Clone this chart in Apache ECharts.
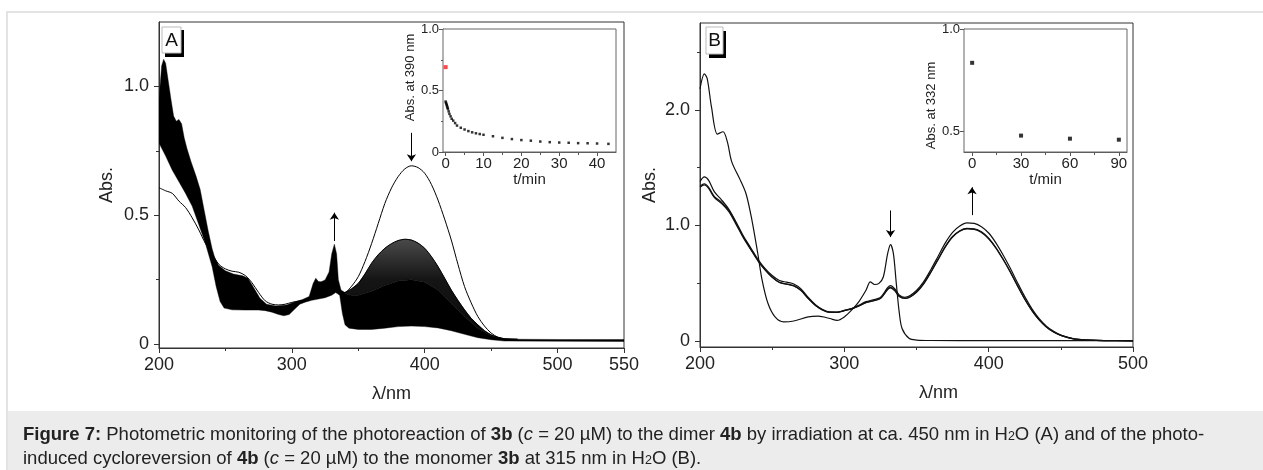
<!DOCTYPE html>
<html>
<head>
<meta charset="utf-8">
<script src="https://cdn.jsdelivr.net/npm/echarts@6/dist/echarts.min.js"></script>
<style>
  html, body { margin: 0; padding: 0; background: #fff; }
  #chart { width: 1263px; height: 470px; }
</style>
</head>
<body>
<div id="chart"></div>
<script>
// ---- panel A: irradiation of 3b (wavelength nm, Abs.) ----
// thin line: t = 0 spectrum of the monomer
var monoA = [[200,0.607],[205,0.595],[210,0.585],[215,0.555],[220,0.53],[225,0.49],[230,0.443],[235,0.39],[240,0.35],[245,0.31],[250,0.292],[255,0.283],[260,0.279],[265,0.266],[270,0.238],[275,0.2],[280,0.168],[285,0.155],[290,0.152],[295,0.155],[300,0.162],[305,0.167],[310,0.17],[315,0.175],[320,0.18],[325,0.186],[328,0.195],[331,0.21],[333,0.208],[336,0.198],[340,0.2],[345,0.225],[350,0.262],[355,0.32],[360,0.39],[365,0.468],[370,0.546],[375,0.606],[380,0.65],[385,0.68],[390,0.692],[395,0.685],[400,0.663],[405,0.62],[410,0.559],[415,0.485],[420,0.404],[425,0.31],[430,0.223],[435,0.16],[440,0.107],[445,0.07],[450,0.043],[455,0.027],[460,0.019],[470,0.014],[500,0.014],[550,0.014]];
// outline of the bundle of spectra recorded during irradiation
var bandTopA = [[200,0.95],[202,1.08],[203.5,1.105],[205,1.09],[207,1.02],[209,0.95],[211,0.885],[213,0.865],[215,0.872],[217,0.855],[219,0.8],[221,0.76],[224,0.71],[228,0.65],[231,0.6],[234,0.52],[237,0.44],[240,0.37],[242,0.335],[245,0.305],[250,0.285],[256,0.272],[263,0.265],[267,0.256],[271,0.222],[276,0.178],[281,0.155],[288,0.148],[296,0.152],[303,0.165],[308,0.173],[313,0.185],[316,0.235],[318,0.256],[320,0.243],[322,0.242],[325,0.249],[328,0.28],[330,0.35],[332,0.388],[333.7,0.35],[335,0.25],[337,0.21],[340,0.2]];
var humpTopA = [[340,0.2],[345,0.215],[350,0.236],[355,0.272],[360,0.314],[365,0.347],[370,0.372],[375,0.39],[380,0.402],[385,0.407],[390,0.404],[395,0.392],[400,0.372],[405,0.34],[410,0.301],[415,0.256],[420,0.21],[425,0.17],[430,0.133],[435,0.1],[440,0.075],[445,0.052],[450,0.036],[455,0.026],[460,0.021],[470,0.019]];
var humpDenseA = [[340,0.196],[345,0.19],[350,0.19],[360,0.205],[370,0.228],[380,0.245],[390,0.25],[400,0.24],[410,0.21],[420,0.16],[430,0.107],[440,0.062],[450,0.033],[460,0.021],[470,0.019]];
var bandTailA = [[500,0.018],[550,0.018]];
var bandLowA = [[200,0.78],[205,0.73],[210,0.675],[215,0.63],[220,0.585],[225,0.535],[230,0.463],[235,0.39],[240,0.3],[243,0.224],[246,0.165],[249,0.14],[255,0.133],[265,0.132],[275,0.132],[280,0.13],[285,0.124],[290,0.115],[294,0.11],[298,0.115],[302,0.135],[306,0.155],[310,0.163],[315,0.17],[320,0.175],[325,0.18],[330,0.19],[333,0.2],[336,0.19],[338,0.12],[340,0.075],[343,0.062],[350,0.057],[360,0.057],[370,0.062],[380,0.068],[390,0.07],[400,0.068],[410,0.063],[420,0.052],[430,0.038],[440,0.025],[450,0.017],[460,0.012],[550,0.01]];

// inset A: Abs. at 390 nm vs t/min
var tA = [0,0.1,0.2,0.3,0.4,0.5,0.6,0.8,1.0,1.3,1.6,2,2.5,3,4,5,6,7,8,9,10,12.5,15,17.5,20,22.5,25,27.5,30,32.5,35,37.5,40,43];
var absA = [0.41,0.40,0.39,0.38,0.37,0.36,0.35,0.33,0.31,0.29,0.27,0.255,0.235,0.215,0.197,0.183,0.17,0.16,0.152,0.146,0.14,0.128,0.115,0.105,0.097,0.092,0.085,0.08,0.077,0.075,0.072,0.071,0.069,0.066];
var startA = [[0, 0.69]];

// ---- panel B: cycloreversion of 4b ----
var wlB0 = [200,203,205,208,212,216,219,222,228,232,236,240,243,247,252,258,265,275,282,290,295,300,305,310,315,318,321,324,327,330,332,334,336,338,340,345,350,360,400,450,500];
var absB0 = [2.18,2.31,2.27,2.02,1.79,1.81,1.72,1.55,1.39,1.27,1.045,0.76,0.53,0.33,0.21,0.167,0.175,0.21,0.216,0.196,0.18,0.21,0.268,0.34,0.44,0.512,0.49,0.5,0.555,0.757,0.835,0.757,0.5,0.253,0.11,0.023,0.01,0.006,0.005,0.005,0.005];
var wlB = [200,203,206,210,215,220,225,230,235,240,245,250,255,260,265,270,275,280,285,290,295,300,305,310,315,320,325,330,332,335,338,342,345,350,355,360,365,370,375,380,385,390,395,400,405,410,415,420,425,430,435,440,445,450,455,460,470,480,500];
var absB30 = [1.38,1.42,1.39,1.29,1.22,1.14,1.03,0.91,0.81,0.71,0.63,0.568,0.525,0.51,0.495,0.452,0.378,0.316,0.274,0.253,0.252,0.267,0.283,0.31,0.342,0.358,0.378,0.462,0.48,0.452,0.4,0.38,0.39,0.438,0.515,0.62,0.735,0.85,0.94,0.995,1.022,1.018,0.99,0.935,0.85,0.745,0.63,0.505,0.385,0.28,0.195,0.13,0.085,0.053,0.033,0.019,0.009,0.005,0.003];
var absB60 = [1.34,1.36,1.33,1.25,1.2,1.13,1.02,0.9,0.8,0.7,0.62,0.555,0.51,0.495,0.48,0.44,0.37,0.31,0.27,0.25,0.25,0.265,0.28,0.305,0.335,0.35,0.37,0.45,0.465,0.44,0.39,0.372,0.38,0.425,0.5,0.6,0.71,0.82,0.905,0.955,0.975,0.972,0.945,0.89,0.81,0.71,0.6,0.48,0.365,0.265,0.185,0.123,0.08,0.05,0.031,0.018,0.009,0.005,0.003];
var absB90 = [1.33,1.35,1.32,1.24,1.19,1.12,1.01,0.895,0.795,0.697,0.617,0.552,0.507,0.492,0.477,0.437,0.368,0.309,0.269,0.249,0.249,0.264,0.279,0.304,0.333,0.348,0.368,0.446,0.46,0.436,0.387,0.37,0.378,0.422,0.496,0.596,0.705,0.815,0.9,0.95,0.97,0.967,0.94,0.885,0.805,0.706,0.597,0.478,0.363,0.264,0.184,0.122,0.079,0.05,0.031,0.018,0.009,0.005,0.003];

// inset B: Abs. at 332 nm vs t/min
var tB = [0, 30, 60, 90];
var absB = [0.835, 0.48, 0.465, 0.46];

function pairs(xs, ys) { return xs.map(function (x, i) { return [x, ys[i]]; }); }

var FONT = 'Liberation Sans, Arial, sans-serif';
var INK = '#222';

// closed outline between two curves, placed through the axes
function band(top, low, fill) {
  return function (params, api) {
    if (params.dataIndex !== 0) return null;
    var pts = [];
    top.forEach(function (p) { pts.push(api.coord(p)); });
    low.slice().reverse().forEach(function (p) { pts.push(api.coord(p)); });
    return { type: 'polygon', shape: { points: pts }, style: { fill: fill, stroke: '#000', lineWidth: 0.4 } };
  };
}

function fmt(v) { return v === 0 ? '0' : v.toFixed(1); }

function axisBase(grid, min, max, color, fs, lblMargin) {
  return {
    type: 'value', gridIndex: grid, min: min, max: max,
    splitLine: { show: false },
    axisLine: { show: true, onZero: false, lineStyle: { color: color, width: 1 } },
    axisTick: { show: true, inside: false, length: 5, lineStyle: { color: color } },
    axisLabel: { fontSize: fs, fontFamily: FONT, color: INK, margin: lblMargin }
  };
}
// second axis on the same grid that only draws the short minor ticks
function minorAxis(grid, min, max, pos, vals, color) {
  return {
    type: 'value', gridIndex: grid, min: min, max: max, position: pos,
    splitLine: { show: false },
    axisLine: { show: false },
    axisLabel: { show: false },
    axisTick: { show: true, length: 3, customValues: vals, lineStyle: { color: color } }
  };
}

var xA = axisBase(0, 200, 550, '#333', 18, 8);
xA.interval = 100; xA.position = 'bottom';
xA.minorTick = { show: true, splitNumber: 2, length: 3, lineStyle: { color: '#333' } };
xA.name = 'λ/nm'; xA.nameLocation = 'middle'; xA.nameGap = 37;
xA.nameTextStyle = { fontSize: 18, fontFamily: FONT, color: INK };

var xB = axisBase(1, 200, 500, '#333', 18, 8);
xB.interval = 100; xB.position = 'bottom';
xB.minorTick = { show: true, splitNumber: 2, length: 3, lineStyle: { color: '#333' } };
xB.name = 'λ/nm'; xB.nameLocation = 'middle'; xB.nameGap = 37;
xB.nameTextStyle = { fontSize: 18, fontFamily: FONT, color: INK, padding: [0, 0, 0, 44] };

var xIA = axisBase(2, -0.7, 45, '#555', 15, 4);
xIA.position = 'bottom';
xIA.axisTick.length = 4;
xIA.axisTick.customValues = [0, 10, 20, 30, 40];
xIA.axisLabel.customValues = [0, 10, 20, 30, 40];
xIA.name = 't/min'; xIA.nameLocation = 'middle'; xIA.nameGap = 19;
xIA.nameTextStyle = { fontSize: 15, fontFamily: FONT, color: INK };

var xIB = axisBase(3, -5, 95, '#555', 15, 4);
xIB.position = 'bottom';
xIB.axisTick.length = 4;
xIB.axisTick.customValues = [0, 30, 60, 90];
xIB.axisLabel.customValues = [0, 30, 60, 90];
xIB.name = 't/min'; xIB.nameLocation = 'middle'; xIB.nameGap = 19;
xIB.nameTextStyle = { fontSize: 15, fontFamily: FONT, color: INK };

var yA = axisBase(0, -0.015, 1.25, '#333', 18, 10);
yA.position = 'left';
yA.axisTick.customValues = [0, 0.5, 1];
yA.axisLabel.customValues = [0, 0.5, 1];
yA.axisLabel.formatter = fmt;
yA.name = 'Abs.'; yA.nameLocation = 'middle'; yA.nameGap = 43;
yA.nameTextStyle = { fontSize: 18, fontFamily: FONT, color: INK };

var yB = axisBase(1, -0.05, 2.75, '#333', 18, 10);
yB.position = 'left';
yB.axisTick.customValues = [0, 1, 2];
yB.axisLabel.customValues = [0, 1, 2];
yB.axisLabel.formatter = fmt;
yB.name = 'Abs.'; yB.nameLocation = 'middle'; yB.nameGap = 41;
yB.nameTextStyle = { fontSize: 18, fontFamily: FONT, color: INK };

var yIA = axisBase(2, 0, 1, '#555', 13, 4);
yIA.position = 'left';
yIA.interval = 0.5;
yIA.axisTick.length = 4;
yIA.minorTick = { show: true, splitNumber: 2, length: 2, lineStyle: { color: '#555' } };
yIA.axisLabel.formatter = fmt;
yIA.name = 'Abs. at 390 nm'; yIA.nameLocation = 'middle'; yIA.nameGap = 26;
yIA.nameTextStyle = { fontSize: 13, fontFamily: FONT, color: INK, padding: [0, 0, 0, 26] };

var yIB = axisBase(3, 0.4, 1.0, '#555', 13, 4);
yIB.position = 'left';
yIB.axisTick.length = 4;
yIB.axisTick.customValues = [0.5, 1.0];
yIB.axisLabel.customValues = [0.5, 1.0];
yIB.axisLabel.formatter = fmt;
yIB.name = 'Abs. at 332 nm'; yIB.nameLocation = 'middle'; yIB.nameGap = 26;
yIB.nameTextStyle = { fontSize: 13, fontFamily: FONT, color: INK, padding: [0, 30, 0, 0] };

var arrowLine = {
  silent: true, symbol: ['none', 'arrow'], symbolSize: 7, animation: false,
  label: { show: false }, emphasis: { disabled: true },
  lineStyle: { color: '#000', width: 1, type: 'solid' }
};

var capRich = {
  b: { fontWeight: 'bold', fontSize: 18.5, fontFamily: FONT, fill: '#222' },
  i: { fontStyle: 'italic', fontSize: 18.5, fontFamily: FONT, fill: '#222' },
  s: { fontSize: 12.5, fontFamily: FONT, fill: '#222', padding: [0, 0, -3, 0] }
};

var chart = echarts.init(document.getElementById('chart'));
chart.setOption({
  animation: false,
  backgroundColor: '#fff',
  grid: [
    { left: 159, top: 22, width: 465, height: 326, show: true, borderColor: '#333', borderWidth: 1, containLabel: false },
    { left: 700, top: 23, width: 433, height: 324, show: true, borderColor: '#333', borderWidth: 1, containLabel: false },
    { left: 443, top: 29, width: 173, height: 123, show: true, borderColor: '#666', borderWidth: 1, backgroundColor: '#fff', z: 5 },
    { left: 964, top: 29, width: 163, height: 123, show: true, borderColor: '#666', borderWidth: 1, backgroundColor: '#fff', z: 5 }
  ],
  xAxis: [xA, xB, xIA, xIB,
    minorAxis(2, -0.7, 45, 'bottom', [5, 15, 25, 35], '#555'),
    minorAxis(3, -5, 95, 'bottom', [15, 45, 75], '#555')],
  yAxis: [yA, yB, yIA, yIB,
    minorAxis(0, -0.015, 1.25, 'left', [0.25, 0.75], '#333'),
    minorAxis(1, -0.05, 2.75, 'left', [0.5, 1.5, 2.5], '#333'),
    minorAxis(3, 0.4, 1.0, 'left', [0.75], '#555')],
  series: [
    {
      type: 'custom', xAxisIndex: 0, yAxisIndex: 0, clip: true, silent: true,
      renderItem: band(bandTopA.concat(humpDenseA, bandTailA), bandLowA, '#000'),
      data: [bandTopA[0]], z: 2
    },
    {
      type: 'custom', xAxisIndex: 0, yAxisIndex: 0, clip: true, silent: true,
      renderItem: band(humpTopA, humpDenseA, new echarts.graphic.LinearGradient(0, 0, 0, 1, [
        { offset: 0, color: '#4a4a4a' }, { offset: 0.4, color: '#151515' }, { offset: 1, color: '#080808' }
      ])),
      data: [humpTopA[0]], z: 2
    },
    {
      type: 'line', xAxisIndex: 0, yAxisIndex: 0, data: humpTopA, smooth: 0.3,
      showSymbol: false, silent: true, lineStyle: { color: '#000', width: 1 }, z: 3
    },
    {
      type: 'line', xAxisIndex: 0, yAxisIndex: 0, data: monoA, smooth: 0.3,
      showSymbol: false, silent: true, lineStyle: { color: '#000', width: 1 }, z: 4,
      markLine: Object.assign({}, arrowLine, {
        data: [
          [{ coord: [390, 0.82] }, { coord: [390, 0.71] }],
          [{ coord: [332, 0.40] }, { coord: [332, 0.51] }]
        ]
      })
    },
    {
      type: 'line', xAxisIndex: 1, yAxisIndex: 1, data: pairs(wlB0, absB0), smooth: 0.3,
      showSymbol: false, silent: true, lineStyle: { color: '#111', width: 1.2 },
      markLine: Object.assign({}, arrowLine, {
        data: [
          [{ coord: [332, 1.13] }, { coord: [332, 0.9] }],
          [{ coord: [388.5, 1.09] }, { coord: [388.5, 1.33] }]
        ]
      })
    },
    { type: 'line', xAxisIndex: 1, yAxisIndex: 1, data: pairs(wlB, absB30), smooth: 0.3, showSymbol: false, silent: true, lineStyle: { color: '#111', width: 1.2 } },
    { type: 'line', xAxisIndex: 1, yAxisIndex: 1, data: pairs(wlB, absB60), smooth: 0.3, showSymbol: false, silent: true, lineStyle: { color: '#111', width: 1.2 } },
    { type: 'line', xAxisIndex: 1, yAxisIndex: 1, data: pairs(wlB, absB90), smooth: 0.3, showSymbol: false, silent: true, lineStyle: { color: '#111', width: 1.2 } },
    {
      type: 'scatter', xAxisIndex: 2, yAxisIndex: 2, data: pairs(tA, absA),
      symbol: 'rect', symbolSize: 2.5, itemStyle: { color: '#000' }, silent: true, z: 6
    },
    {
      type: 'scatter', xAxisIndex: 2, yAxisIndex: 2, data: startA,
      symbol: 'rect', symbolSize: 4, itemStyle: { color: '#ff1a1a' }, silent: true, z: 6
    },
    {
      type: 'scatter', xAxisIndex: 3, yAxisIndex: 3, data: pairs(tB, absB),
      symbol: 'rect', symbolSize: 4, itemStyle: { color: '#000' }, silent: true, z: 6
    }
  ],
  graphic: [
    { type: 'line', shape: { x1: 6, y1: 12, x2: 1263, y2: 12 }, style: { stroke: '#e3e3e3', lineWidth: 2 }, silent: true },
    { type: 'line', shape: { x1: 7, y1: 12, x2: 7, y2: 470 }, style: { stroke: '#e3e3e3', lineWidth: 2 }, silent: true },
    { type: 'rect', shape: { x: 8, y: 411, width: 1255, height: 59 }, style: { fill: '#ececec' }, silent: true },
    // panel tags
    { type: 'rect', shape: { x: 165, y: 30, width: 19, height: 27 }, style: { fill: '#000' }, z: 100 },
    { type: 'rect', shape: { x: 162, y: 27, width: 19, height: 26 }, style: { fill: '#fff', stroke: '#bbb', lineWidth: 1 }, z: 101 },
    { type: 'text', x: 171.5, y: 40.5, z: 102, style: { text: 'A', fontSize: 19, fontFamily: FONT, fill: '#111', align: 'center', verticalAlign: 'middle' } },
    { type: 'rect', shape: { x: 709, y: 31, width: 17, height: 27 }, style: { fill: '#000' }, z: 100 },
    { type: 'rect', shape: { x: 706, y: 27, width: 17, height: 27 }, style: { fill: '#fff', stroke: '#bbb', lineWidth: 1 }, z: 101 },
    { type: 'text', x: 714.5, y: 41, z: 102, style: { text: 'B', fontSize: 19, fontFamily: FONT, fill: '#111', align: 'center', verticalAlign: 'middle' } },
    // caption
    {
      type: 'text', x: 23, y: 435, z: 100,
      style: {
        text: '{b|Figure 7:} Photometric monitoring of the photoreaction of {b|3b} ({i|c} = 20 µM) to the dimer {b|4b} by irradiation at ca. 450 nm in H{s|2}O (A) and of the photo-',
        fontSize: 18.5, fontFamily: FONT, fill: '#222', verticalAlign: 'middle', rich: capRich
      }
    },
    {
      type: 'text', x: 23, y: 459, z: 100,
      style: {
        text: 'induced cycloreversion of {b|4b} ({i|c} = 20 µM) to the monomer {b|3b} at 315 nm in H{s|2}O (B).',
        fontSize: 18.5, fontFamily: FONT, fill: '#222', verticalAlign: 'middle', rich: capRich
      }
    }
  ]
});
</script>
</body>
</html>
